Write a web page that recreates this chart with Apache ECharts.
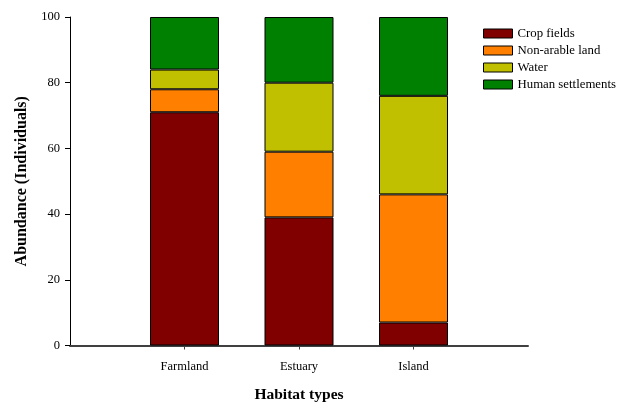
<!DOCTYPE html>
<html>
<head>
<meta charset="utf-8">
<script src="https://cdn.jsdelivr.net/npm/echarts@6/dist/echarts.min.js"></script>
<style>html,body{margin:0;padding:0;background:#fff}#c{width:624px;height:402px}</style>
</head>
<body>
<div id="c"></div>
<script>
const categories = ['', 'Farmland', 'Estuary', 'Island', ''];
const cropFields = [null, 71, 39, 7, null];
const nonArable = [null, 7, 20, 39, null];
const water = [null, 6, 21, 30, null];
const humanSettlements = [null, 16, 20, 24, null];
const yTicks = [0, 20, 40, 60, 80, 100];

const font = '"Liberation Serif", "Times New Roman", serif';
const mk = (name, data, color) => ({
  name, type: 'bar', stack: 'a', data, barWidth: 69,
  itemStyle: { color, borderColor: '#000', borderWidth: 1 }
});
const chart = echarts.init(document.getElementById('c'));
chart.setOption({
  animation: false,
  textStyle: { fontFamily: font },
  grid: { left: 70, right: 96, top: 17, bottom: 56.5, outerBoundsMode: 'none', containLabel: false },
  legend: {
    orient: 'vertical', left: 483, top: 27, padding: 0, itemWidth: 29, itemHeight: 9, itemGap: 4,
    icon: 'rect',
    textStyle: { fontFamily: font, fontSize: 12.8, lineHeight: 12, color: '#000' },
    itemStyle: { borderColor: '#000', borderWidth: 1 }
  },
  xAxis: {
    type: 'category', data: categories, boundaryGap: false,
    name: 'Habitat types', nameLocation: 'middle', nameGap: 41,
    nameTextStyle: { fontFamily: font, fontSize: 15.5, fontWeight: 'bold', color: '#000' },
    axisLine: { lineStyle: { color: '#404040', width: 2 } },
    axisTick: { length: 4, lineStyle: { color: '#404040' }, interval: (i, v) => v !== '' },
    axisLabel: { fontFamily: font, fontSize: 12.5, color: '#000', margin: 15, interval: (i, v) => v !== '' },
    splitLine: { show: false }
  },
  yAxis: {
    type: 'value', min: 0, max: 100, interval: 20,
    name: 'Abundance (Individuals)', nameLocation: 'middle', nameGap: 36,
    nameTextStyle: { fontFamily: font, fontSize: 16, fontWeight: 'bold', color: '#000' },
    axisLine: { show: true, lineStyle: { color: '#000', width: 1 } },
    axisTick: { show: true, length: 5, lineStyle: { color: '#000' } },
    axisLabel: { fontFamily: font, fontSize: 12.5, color: '#000', margin: 10,
      formatter: v => yTicks.includes(v) ? String(v) : '' },
    splitLine: { show: false }
  },
  series: [
    mk('Crop fields', cropFields, '#800000'),
    mk('Non-arable land', nonArable, '#FF8000'),
    mk('Water', water, '#C0C000'),
    mk('Human settlements', humanSettlements, '#008000')
  ]
});
</script>
</body>
</html>
